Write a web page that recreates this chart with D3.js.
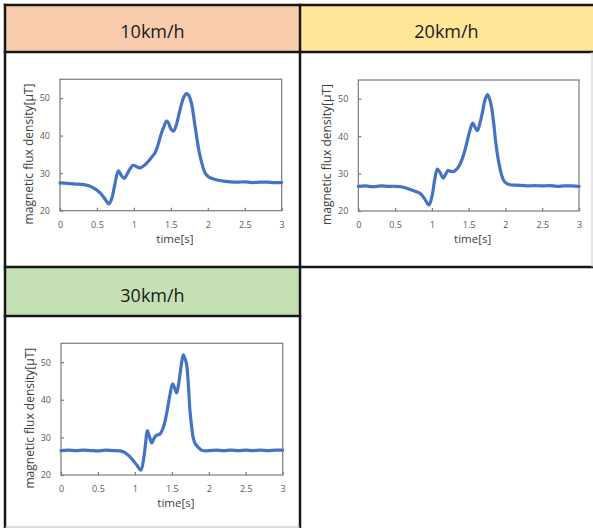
<!DOCTYPE html>
<html><head><meta charset="utf-8">
<script src="https://cdn.jsdelivr.net/npm/d3@7"></script>
<style>body{margin:0;background:#fff}svg{display:block}</style>
</head><body><svg id="c" width="593" height="528"></svg>
<script>
// ---------- data ----------
const speedLabels = ["10km/h", "20km/h", "30km/h"];
const xTickValues = [0, 0.5, 1, 1.5, 2, 2.5, 3];
const xTickLabels = ["0", "0.5", "1", "1.5", "2", "2.5", "3"];
const yTickValues = [20, 30, 40, 50];
const yTickLabels = ["20", "30", "40", "50"];
const xTitle = "time[s]";
const yTitle = "magnetic flux density[\u03bcT]";

const time10 = [0, 0.1, 0.2, 0.3, 0.4, 0.47, 0.55, 0.62, 0.66, 0.7, 0.74, 0.79, 0.83, 0.87, 0.92, 0.99, 1.04, 1.08, 1.13, 1.17, 1.23, 1.29, 1.33, 1.37, 1.41, 1.44, 1.47, 1.5, 1.535, 1.57, 1.62, 1.67, 1.71, 1.74, 1.78, 1.82, 1.85, 1.88, 1.92, 1.96, 2.01, 2.1, 2.2, 2.3, 2.4, 2.5, 2.6, 2.7, 2.8, 2.9, 3.0];
const flux10 = [27.4, 27.3, 27.1, 27.0, 26.6, 25.9, 24.6, 22.8, 21.8, 23.2, 26.8, 30.6, 29.4, 28.6, 30.2, 32.1, 31.7, 31.4, 31.9, 32.6, 34.0, 35.6, 37.8, 40.5, 42.6, 43.9, 43.3, 41.8, 41.2, 42.6, 46.5, 50.0, 51.2, 50.8, 48.5, 43.5, 39.6, 36.0, 32.6, 30.2, 29.0, 28.3, 27.9, 27.7, 27.6, 27.7, 27.5, 27.6, 27.6, 27.5, 27.5];

const time20 = [0, 0.1, 0.2, 0.3, 0.4, 0.5, 0.6, 0.7, 0.78, 0.84, 0.9, 0.96, 1.0, 1.04, 1.074, 1.11, 1.155, 1.19, 1.22, 1.26, 1.29, 1.33, 1.36, 1.41, 1.45, 1.49, 1.52, 1.555, 1.59, 1.62, 1.66, 1.69, 1.72, 1.755, 1.78, 1.81, 1.84, 1.87, 1.9, 1.93, 1.96, 1.99, 2.06, 2.15, 2.3, 2.4, 2.5, 2.6, 2.7, 2.8, 2.9, 3.0];
const flux20 = [26.6, 26.7, 26.5, 26.7, 26.6, 26.6, 26.4, 25.8, 25.2, 24.7, 23.3, 21.6, 23.8, 28.5, 31.2, 30.3, 28.8, 29.9, 30.8, 30.6, 30.5, 31.0, 31.7, 33.8, 36.3, 39.5, 41.7, 43.5, 42.3, 41.5, 44.0, 46.6, 49.6, 51.1, 50.2, 47.9, 43.5, 38.1, 34.0, 31.0, 28.9, 27.8, 27.0, 26.9, 26.7, 26.8, 26.7, 26.8, 26.6, 26.7, 26.7, 26.6];

const time30 = [0, 0.1, 0.2, 0.3, 0.4, 0.5, 0.6, 0.7, 0.8, 0.87, 0.93, 0.98, 1.03, 1.08, 1.12, 1.145, 1.168, 1.2, 1.227, 1.255, 1.285, 1.34, 1.38, 1.407, 1.44, 1.475, 1.51, 1.54, 1.565, 1.59, 1.61, 1.635, 1.655, 1.68, 1.7, 1.725, 1.746, 1.77, 1.79, 1.82, 1.86, 1.9, 1.95, 2.0, 2.1, 2.2, 2.3, 2.4, 2.5, 2.6, 2.7, 2.8, 2.9, 3.0];
const flux30 = [26.5, 26.6, 26.5, 26.6, 26.5, 26.4, 26.6, 26.5, 26.4, 25.9, 24.9, 23.8, 22.5, 21.3, 24.5, 28.5, 31.8, 30.0, 28.5, 29.6, 30.5, 30.9, 32.4, 34.2, 37.5, 41.4, 44.2, 43.0, 41.8, 44.0, 46.7, 50.2, 51.9, 50.8, 49.4, 43.5, 36.9, 32.5, 29.8, 28.2, 27.3, 26.6, 26.4, 26.5, 26.6, 26.5, 26.6, 26.5, 26.6, 26.5, 26.6, 26.5, 26.6, 26.6];

// ---------- layout / style ----------
const layout = [
  { hx: 5, hy: 5, hw: 295, hh: 47, fill: "#F8CBAD", textY: 38, px0: 60, px1: 281.7, py0: 79.3, py1: 210.7, t: time10, v: flux10 },
  { hx: 300, hy: 5, hw: 293, hh: 47, fill: "#FFE699", textY: 38, px0: 358.3, px1: 579, py0: 80, py1: 211, t: time20, v: flux20 },
  { hx: 5, hy: 266, hw: 295, hh: 50, fill: "#C5E0B4", textY: 301.5, px0: 61, px1: 282.7, py0: 343.3, py1: 475, t: time30, v: flux30 }
];
const font = "'Open Sans', 'Noto Sans', sans-serif";
const svg = d3.select("#c");
svg.append("rect").attr("width", 593).attr("height", 528).attr("fill", "#fff");

layout.forEach((p, i) => {
  svg.append("rect").attr("x", p.hx).attr("y", p.hy).attr("width", p.hw).attr("height", p.hh).attr("fill", p.fill);
  svg.append("text").attr("x", p.hx + p.hw / 2).attr("y", p.textY)
    .attr("text-anchor", "middle").attr("font-family", font).attr("font-size", 18)
    .attr("fill", "#1a1a1a").text(speedLabels[i]);

  const x = d3.scaleLinear().domain([0, 3]).range([p.px0, p.px1]);
  const y = d3.scaleLinear().domain([20, 55]).range([p.py1, p.py0]);

  const gx = svg.append("g").attr("transform", `translate(0,${p.py1})`)
    .call(d3.axisBottom(x).tickValues(xTickValues).tickFormat((d, j) => xTickLabels[j]).tickSize(-3).tickPadding(11));
  const gy = svg.append("g").attr("transform", `translate(${p.px0},0)`)
    .call(d3.axisLeft(y).tickValues(yTickValues).tickFormat((d, j) => yTickLabels[j]).tickSize(-3).tickPadding(10));
  [gx, gy].forEach(g => {
    g.select(".domain").remove();
    g.selectAll(".tick line").attr("stroke", "#7a7a7a").attr("stroke-width", 1.2);
    g.selectAll(".tick text").attr("font-family", font).attr("font-size", 9).attr("fill", "#595959");
  });

  svg.append("rect").attr("x", p.px0).attr("y", p.py0)
    .attr("width", p.px1 - p.px0).attr("height", p.py1 - p.py0)
    .attr("fill", "none").attr("stroke", "#7a7a7a").attr("stroke-width", 1.2);

  const pts = p.t.map((tt, j) => [tt, p.v[j]]);
  svg.append("path").datum(pts)
    .attr("d", d3.line().x(d => x(d[0])).y(d => y(d[1])).curve(d3.curveCatmullRom.alpha(0.5)))
    .attr("fill", "none").attr("stroke", "#4472C4").attr("stroke-width", 3.2)
    .attr("stroke-linejoin", "round").attr("stroke-linecap", "round");

  svg.append("text").attr("x", (p.px0 + p.px1) / 2 + 4).attr("y", p.py1 + 32)
    .attr("text-anchor", "middle")
    .attr("font-family", font).attr("font-size", 11.5).attr("fill", "#404040").text(xTitle);

  const cy = (p.py0 + p.py1) / 2 + 9;
  svg.append("text").attr("transform", `translate(${p.px0 - 32},${cy}) rotate(-90)`)
    .attr("text-anchor", "middle").attr("dominant-baseline", "central")
    .attr("font-family", font).attr("font-size", 12).attr("fill", "#404040").text(yTitle);
});

// ---------- table borders ----------
const lines = [
  [5, 5, 593, 5], [5, 52, 593, 52], [5, 267, 593, 267], [5, 316, 300, 316],
  [5, 5, 5, 528], [300, 5, 300, 528]
];
lines.forEach(l => svg.append("line").attr("x1", l[0]).attr("y1", l[1]).attr("x2", l[2]).attr("y2", l[3])
  .attr("stroke", "#161616").attr("stroke-width", 2.5).attr("stroke-linecap", "square"));
svg.append("line").attr("x1", 5).attr("y1", 527).attr("x2", 300).attr("y2", 527).attr("stroke", "#bbb").attr("stroke-width", 1);
svg.append("line").attr("x1", 592).attr("y1", 52).attr("x2", 592).attr("y2", 267).attr("stroke", "#ccc").attr("stroke-width", 1);
</script></body></html>
